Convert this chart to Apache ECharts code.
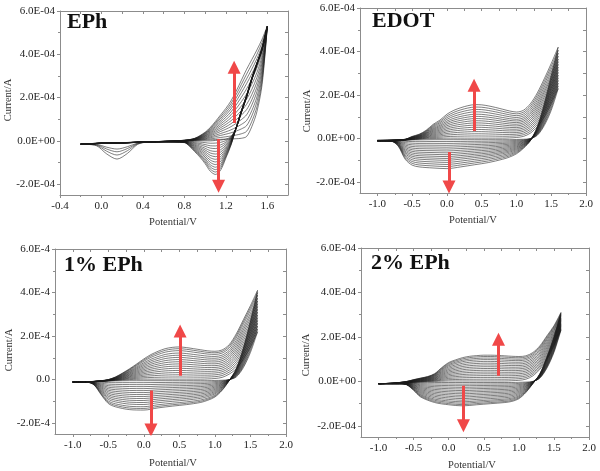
<!DOCTYPE html>
<html><head><meta charset="utf-8">
<script src="https://cdn.jsdelivr.net/npm/echarts@6/dist/echarts.min.js"></script>
<style>html,body{margin:0;padding:0;background:#fff}#c{width:600px;height:471px}</style>
</head><body><div id="c"></div>
<script>
// ===== DATA (potential in V, current in units of 1E-4 A) =====
// --- Panel 1: EPh ---
const ephPotA      = [-0.2,0.0,0.2,0.4,0.6,0.8,0.9,1.0,1.05,1.1,1.15,1.2,1.25,1.3,1.35,1.4,1.45,1.5,1.55,1.6];
const ephAnodFirst = [-0.15,-0.12,-0.1,-0.06,-0.03,0.0,0.02,0.04,0.05,0.06,0.07,0.08,0.09,0.1,0.12,0.2,0.65,1.35,2.6,5.25];
const ephAnodLast  = [-0.15,-0.1,-0.08,-0.05,-0.02,0.03,0.12,0.4,0.62,0.9,1.2,1.5,1.85,2.3,2.8,3.3,3.75,4.2,4.7,5.3];
const ephPotC      = [1.6,1.55,1.5,1.45,1.4,1.35,1.3,1.25,1.2,1.15,1.1,1.05,1.0,0.95,0.9,0.85,0.8,0.6,0.45,0.35,0.25,0.15,0.05,-0.05,-0.2];
const ephCathFirst = [5.25,4.2,3.5,2.8,2.0,1.3,0.6,0.2,0.08,0.04,0.02,0.0,0.0,0.0,0.0,0.0,-0.01,-0.03,-0.05,-0.06,-0.08,-0.09,-0.1,-0.12,-0.15];
const ephCathLast  = [5.3,4.3,3.6,2.9,2.1,1.4,0.6,-0.2,-0.8,-1.35,-1.55,-1.4,-1.05,-0.75,-0.5,-0.25,-0.08,-0.05,-0.05,-0.07,-0.08,-0.1,-0.1,-0.12,-0.15];
const ephLowDip    = [0,0,0,0,0,0,0,0,0,0,0,0,0,0,0,0,0,0,0,-0.1,-0.5,-0.75,-0.5,-0.1,0];
const ephCycleLevels  = [0.0,0.12,0.25,0.37,0.5,0.62,0.74,0.86,0.98,1.1,1.22,1.33,1.44,1.55];
const ephLowDipLevels = [1,0.75,0.55,0.38,0,0,0,0,0,0,0,0,0,0];

// --- shared potential grids for panels 2-4 ---
const potA = [-1.0,-0.8,-0.6,-0.5,-0.4,-0.3,-0.2,-0.1,0.0,0.1,0.2,0.3,0.4,0.5,0.6,0.7,0.8,0.9,1.0,1.1,1.2,1.3,1.4,1.5,1.6];
const potC = [1.6,1.5,1.4,1.3,1.2,1.1,1.0,0.9,0.8,0.6,0.4,0.2,0.0,-0.2,-0.4,-0.5,-0.6,-0.7,-0.8,-1.0];

// --- Panel 2: EDOT ---
const edotAnodFirst = [-0.1,-0.09,-0.07,-0.05,-0.03,-0.01,0.0,0.01,0.02,0.02,0.02,0.02,0.02,0.02,0.02,0.02,0.02,0.03,0.05,0.1,0.25,0.55,1.0,1.6,2.3];
const edotAnodLast  = [-0.08,-0.07,-0.03,0.1,0.2,0.38,0.65,0.85,1.12,1.3,1.42,1.51,1.56,1.55,1.5,1.43,1.35,1.27,1.22,1.3,1.6,2.1,2.75,3.45,4.2];
const edotCathFirst = [2.3,1.3,0.6,0.15,0.0,-0.03,-0.04,-0.05,-0.05,-0.05,-0.05,-0.05,-0.05,-0.05,-0.06,-0.06,-0.07,-0.08,-0.1,-0.1];
const edotCathLast  = [4.2,2.9,1.6,0.55,-0.1,-0.45,-0.7,-0.85,-0.95,-1.1,-1.2,-1.3,-1.38,-1.35,-1.3,-1.22,-0.95,-0.35,-0.12,-0.1];
const edotCycleLevels = [0.02,0.12,0.22,0.32,0.42,0.52,0.62,0.72,0.82,0.92,1.02,1.12,1.23,1.34,1.45,1.56];

// --- Panel 3: 1% EPh ---
const p1AnodFirst = [-0.1,-0.1,-0.08,-0.06,-0.04,-0.02,0.0,0.01,0.02,0.02,0.02,0.02,0.02,0.02,0.02,0.02,0.02,0.03,0.05,0.1,0.25,0.5,0.95,1.5,2.2];
const p1AnodLast  = [-0.1,-0.1,-0.05,0.0,0.12,0.3,0.5,0.72,0.95,1.15,1.3,1.42,1.48,1.5,1.47,1.42,1.37,1.32,1.3,1.36,1.6,2.1,2.75,3.4,4.1];
const p1CathFirst = [2.2,1.25,0.55,0.12,0.0,-0.03,-0.04,-0.05,-0.05,-0.05,-0.05,-0.05,-0.05,-0.05,-0.06,-0.07,-0.08,-0.1,-0.1,-0.12];
const p1CathLast  = [4.1,2.7,1.45,0.5,-0.05,-0.5,-0.8,-0.95,-1.05,-1.15,-1.22,-1.3,-1.4,-1.38,-1.25,-1.1,-0.7,-0.25,-0.12,-0.12];
const p1CycleLevels = [0.02,0.12,0.22,0.32,0.42,0.52,0.62,0.72,0.82,0.92,1.02,1.12,1.22,1.33,1.42,1.5];

// --- Panel 4: 2% EPh ---
const p2AnodFirst = [-0.1,-0.09,-0.07,-0.05,-0.03,-0.01,0.0,0.01,0.02,0.02,0.02,0.02,0.02,0.02,0.02,0.02,0.02,0.03,0.05,0.1,0.25,0.55,1.0,1.6,2.3];
const p2AnodLast  = [-0.1,-0.08,0.0,0.08,0.15,0.22,0.35,0.62,0.85,0.97,1.07,1.13,1.16,1.18,1.18,1.17,1.15,1.13,1.12,1.15,1.3,1.6,2.05,2.5,3.1];
const p2CathFirst = [2.3,1.3,0.6,0.15,0.0,-0.03,-0.04,-0.05,-0.05,-0.05,-0.05,-0.05,-0.05,-0.05,-0.06,-0.07,-0.08,-0.1,-0.1,-0.1];
const p2CathLast  = [3.1,2.0,1.1,0.35,-0.1,-0.5,-0.78,-0.9,-0.95,-1.0,-1.05,-1.1,-1.05,-0.95,-0.7,-0.4,-0.15,-0.1,-0.1,-0.1];
const p2CycleLevels = [0.02,0.1,0.18,0.26,0.34,0.42,0.5,0.58,0.66,0.74,0.82,0.9,0.98,1.05,1.12,1.18];

// --- arrows: [x, tail current, tip current] ---
const ephArrows  = [[1.28, 0.83, 3.4], [1.13, 0.09, -2.1]];
const edotArrows = [[0.39, 0.35, 2.45], [0.03, -0.62, -2.23]];
const p1Arrows   = [[0.51, 0.18, 2.23], [0.10, -0.5, -2.32]];
const p2Arrows   = [[0.71, 0.25, 1.9], [0.21, -0.19, -1.99]];

// --- ticks ---
const ephXTicks = [-0.4,0.0,0.4,0.8,1.2,1.6];
const ephXLabels = ['-0.4','0.0','0.4','0.8','1.2','1.6'];
const ephXMinor = [-0.2,0.2,0.6,1.0,1.4];
const xTicks = [-1.0,-0.5,0.0,0.5,1.0,1.5,2.0];
const xLabels = ['-1.0','-0.5','0.0','0.5','1.0','1.5','2.0'];
const xMinor = [-0.75,-0.25,0.25,0.75,1.25,1.75];
const yTicks = [-2,0,2,4,6];
const yMinor = [-1,1,3,5];
const yLabelsE04 = ['-2.0E-04','0.0E+00','2.0E-04','4.0E-04','6.0E-04'];
const yLabelsE4  = ['-2.0E-4','0.0','2.0E-4','4.0E-4','6.0E-4'];

// ===== LAYOUT =====
const FONT = "'Liberation Serif','Times New Roman',serif";
const panels = [
  {title:'EPh', grid:{left:60, top:11, width:228, height:184}, xMin:-0.4, xMax:1.8,
   xT:ephXTicks, xL:ephXLabels, xM:ephXMinor, yL:yLabelsE04,
   potA:ephPotA, aF:ephAnodFirst, aL:ephAnodLast, potC:ephPotC, cF:ephCathFirst, cL:ephCathLast,
   levels:ephCycleLevels, dip:ephLowDip, dipLv:ephLowDipLevels, arrows:ephArrows,
   tPos:[67,26], yName:[8,100], xName:[173,222]},
  {title:'EDOT', grid:{left:360, top:8, width:226, height:185}, xMin:-1.25, xMax:2.0,
   xT:xTicks, xL:xLabels, xM:xMinor, yL:yLabelsE04,
   potA:potA, aF:edotAnodFirst, aL:edotAnodLast, potC:potC, cF:edotCathFirst, cL:edotCathLast,
   levels:edotCycleLevels, arrows:edotArrows,
   tPos:[372,25], yName:[307,111], xName:[473,220]},
  {title:'1% EPh', grid:{left:55, top:249, width:231, height:185}, xMin:-1.25, xMax:2.0,
   xT:xTicks, xL:xLabels, xM:xMinor, yL:yLabelsE4,
   potA:potA, aF:p1AnodFirst, aL:p1AnodLast, potC:potC, cF:p1CathFirst, cL:p1CathLast,
   levels:p1CycleLevels, arrows:p1Arrows,
   tPos:[64,269], yName:[9,350], xName:[173,463]},
  {title:'2% EPh', grid:{left:361, top:248, width:228, height:189}, xMin:-1.25, xMax:2.0,
   xT:xTicks, xL:xLabels, xM:xMinor, yL:yLabelsE04,
   potA:potA, aF:p2AnodFirst, aL:p2AnodLast, potC:potC, cF:p2CathFirst, cL:p2CathLast,
   levels:p2CycleLevels, arrows:p2Arrows,
   tPos:[371,267], yName:[306,355], xName:[472,465]}
];

const AXC = '#8c8c8c';
const grids=[], xAxes=[], yAxes=[], series=[], graphics=[];
panels.forEach((p, gi) => {
  grids.push(Object.assign({containLabel:false}, p.grid));
  const xi = xAxes.length, yi = yAxes.length;
  const lab = (vals, names) => (v) => { const k = vals.findIndex(t => Math.abs(t - v) < 1e-6); return k >= 0 ? names[k] : ''; };
  const line = (show) => ({show:show, onZero:false, lineStyle:{color:AXC, width:1}});
  // bottom main
  xAxes.push({gridIndex:gi, type:'value', min:p.xMin, max:p.xMax, position:'bottom',
    axisLine:line(true), splitLine:{show:false},
    axisTick:{show:true, customValues:p.xT, inside:false, length:3, lineStyle:{color:AXC}},
    axisLabel:{customValues:p.xT, formatter:lab(p.xT, p.xL), margin:6, fontFamily:FONT, fontSize:11, color:'#222'}});
  xAxes.push({gridIndex:gi, type:'value', min:p.xMin, max:p.xMax, position:'bottom',
    axisLine:line(false), splitLine:{show:false}, axisLabel:{show:false},
    axisTick:{show:true, customValues:p.xM, inside:false, length:2, lineStyle:{color:AXC}}});
  xAxes.push({gridIndex:gi, type:'value', min:p.xMin, max:p.xMax, position:'top',
    axisLine:line(true), splitLine:{show:false}, axisLabel:{show:false},
    axisTick:{show:true, customValues:p.xT.concat(p.xM), inside:true, length:3, lineStyle:{color:AXC}}});
  // left main
  yAxes.push({gridIndex:gi, type:'value', min:-2.5, max:6, position:'left',
    axisLine:line(true), splitLine:{show:false},
    axisTick:{show:true, customValues:yTicks, inside:false, length:3, lineStyle:{color:AXC}},
    axisLabel:{customValues:yTicks, formatter:lab(yTicks, p.yL), margin:5, fontFamily:FONT, fontSize:11, color:'#222'}});
  yAxes.push({gridIndex:gi, type:'value', min:-2.5, max:6, position:'left',
    axisLine:line(false), splitLine:{show:false}, axisLabel:{show:false},
    axisTick:{show:true, customValues:yMinor, inside:false, length:2, lineStyle:{color:AXC}}});
  yAxes.push({gridIndex:gi, type:'value', min:-2.5, max:6, position:'right',
    axisLine:line(true), splitLine:{show:false}, axisLabel:{show:false},
    axisTick:{show:true, customValues:yTicks.concat(yMinor), inside:true, length:3, lineStyle:{color:AXC}}});

  // CV loops, one series per cycle
  const n = p.levels.length, l0 = p.levels[0], l1 = p.levels[n-1];
  for (let k = 0; k < n; k++) {
    const t = (p.levels[k] - l0) / (l1 - l0);
    const data = [];
    p.potA.forEach((x, i) => data.push([x, p.aF[i] + t * (p.aL[i] - p.aF[i])]));
    p.potC.forEach((x, i) => {
      let y = p.cF[i] + t * (p.cL[i] - p.cF[i]);
      if (p.dip) y += p.dip[i] * p.dipLv[k];
      data.push([x, y]);
    });
    series.push({type:'line', xAxisIndex:xi, yAxisIndex:yi, data, showSymbol:false, symbol:'none',
      smooth:0.3, silent:true, animation:false,
      lineStyle:{color:'#1a1a1a', width:0.7, opacity:0.8}});
  }
  // arrows
  series.push({type:'lines', coordinateSystem:'cartesian2d', xAxisIndex:xi, yAxisIndex:yi,
    silent:true, animation:false, symbol:['none','triangle'], symbolSize:[0,13],
    lineStyle:{color:'#f04848', width:3, opacity:1},
    data:p.arrows.map(a => ({coords:[[a[0], a[1]], [a[0], a[2]]]})), z:10});

  graphics.push({type:'text', left:p.tPos[0], top:p.tPos[1]-15, style:{text:p.title, font:"bold 22px "+FONT, fill:'#111'}});
  graphics.push({type:'text', x:p.yName[0], y:p.yName[1], rotation:Math.PI/2,
    style:{text:'Current/A', font:"10.5px "+FONT, fill:'#333', textAlign:'center', textVerticalAlign:'middle'}});
  graphics.push({type:'text', x:p.xName[0], y:p.xName[1],
    style:{text:'Potential/V', font:"10.5px "+FONT, fill:'#333', textAlign:'center', textVerticalAlign:'middle'}});
});

const chart = echarts.init(document.getElementById('c'), null, {renderer:'canvas'});
chart.setOption({animation:false, backgroundColor:'#fff', grid:grids, xAxis:xAxes, yAxis:yAxes, series, graphic:graphics});
</script></body></html>
